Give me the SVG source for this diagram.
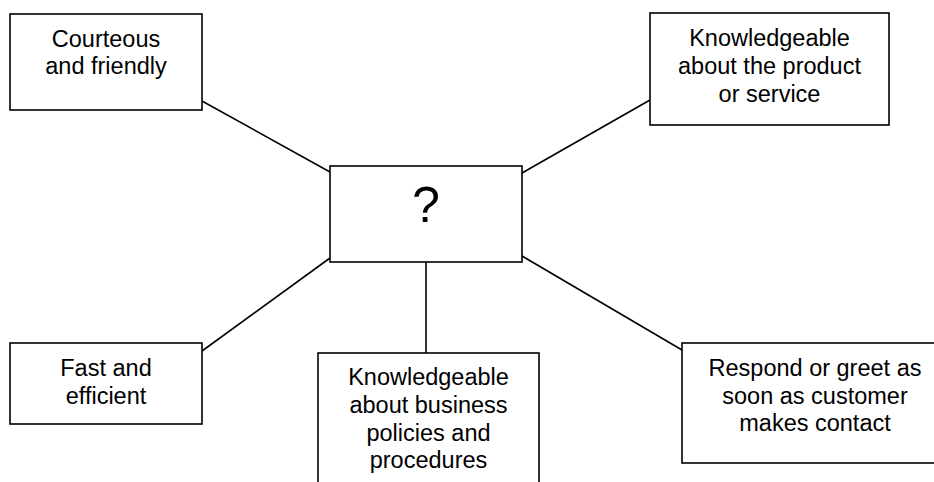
<svg xmlns="http://www.w3.org/2000/svg" width="934" height="482" viewBox="0 0 934 482">
<style>
.box{fill:#fff;stroke:#000;stroke-width:1.6}
.t{font-family:"Liberation Sans",Arial,sans-serif;font-size:23.5px;fill:#000;text-anchor:middle}
.c{stroke:#000;stroke-width:1.6;fill:none}
</style>
<rect width="934" height="482" fill="#fff"/>
<g id="connectors">
<line class="c" x1="202" y1="101" x2="330" y2="172"/>
<line class="c" x1="522" y1="173" x2="650" y2="100"/>
<line class="c" x1="202" y1="351" x2="330" y2="258"/>
<line class="c" x1="426" y1="262" x2="426" y2="353"/>
<line class="c" x1="522" y1="256" x2="682" y2="350"/>
</g>
<g id="center">
<rect class="box" x="330" y="166" width="192" height="96"/>
<text class="t" x="426" y="222" style="font-size:50px">?</text>
</g>
<g id="courteous">
<rect class="box" x="10" y="14" width="192" height="96"/>
<text class="t" x="106" y="47">Courteous</text>
<text class="t" x="106" y="74">and friendly</text>
</g>
<g id="knowledge-product">
<rect class="box" x="650" y="13" width="239" height="112"/>
<text class="t" x="769.5" y="46">Knowledgeable</text>
<text class="t" x="769.5" y="74">about the product</text>
<text class="t" x="769.5" y="102">or service</text>
</g>
<g id="fast">
<rect class="box" x="10" y="343" width="192" height="81"/>
<text class="t" x="106" y="376">Fast and</text>
<text class="t" x="106" y="404">efficient</text>
</g>
<g id="knowledge-business">
<rect class="box" x="318" y="353" width="221" height="140"/>
<text class="t" x="428.5" y="385">Knowledgeable</text>
<text class="t" x="428.5" y="413">about business</text>
<text class="t" x="428.5" y="441">policies and</text>
<text class="t" x="428.5" y="468">procedures</text>
</g>
<g id="respond">
<rect class="box" x="682" y="343" width="268" height="120"/>
<text class="t" x="815" y="376">Respond or greet as</text>
<text class="t" x="815" y="404">soon as customer</text>
<text class="t" x="815" y="431">makes contact</text>
</g>
</svg>
